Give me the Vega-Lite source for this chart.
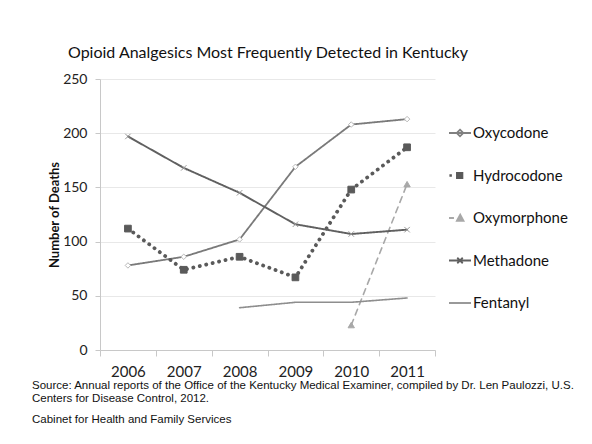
{
  "$schema": "https://vega.github.io/schema/vega-lite/v6.json",
  "width": 335,
  "height": 271,
  "autosize": {"type": "none"},
  "padding": {"left": 100, "top": 79, "right": 157, "bottom": 94},
  "background": "white",
  "title": {
    "text": [
      "Source: Annual reports of the Office of the Kentucky Medical Examiner, compiled by Dr. Len Paulozzi, U.S.",
      "Centers for Disease Control, 2012."
    ],
    "subtitle": "Cabinet for Health and Family Services",
    "orient": "bottom",
    "anchor": "start",
    "frame": "group",
    "align": "left",
    "dx": -68,
    "offset": 1,
    "font": "Liberation Sans",
    "fontSize": 11.5,
    "fontWeight": "normal",
    "color": "#111111",
    "lineHeight": 13,
    "subtitleFont": "Liberation Sans",
    "subtitleFontSize": 11.5,
    "subtitleColor": "#111111",
    "subtitlePadding": 9
  },
  "config": {
    "view": {"stroke": null},
    "font": "Lato"
  },
  "data": {
    "values": [
      {"year": "2006", "drug": "Oxycodone", "deaths": 78},
      {"year": "2007", "drug": "Oxycodone", "deaths": 86},
      {"year": "2008", "drug": "Oxycodone", "deaths": 102},
      {"year": "2009", "drug": "Oxycodone", "deaths": 169},
      {"year": "2010", "drug": "Oxycodone", "deaths": 208},
      {"year": "2011", "drug": "Oxycodone", "deaths": 213},
      {"year": "2006", "drug": "Hydrocodone", "deaths": 112},
      {"year": "2007", "drug": "Hydrocodone", "deaths": 74},
      {"year": "2008", "drug": "Hydrocodone", "deaths": 86},
      {"year": "2009", "drug": "Hydrocodone", "deaths": 67},
      {"year": "2010", "drug": "Hydrocodone", "deaths": 148},
      {"year": "2011", "drug": "Hydrocodone", "deaths": 187},
      {"year": "2010", "drug": "Oxymorphone", "deaths": 23},
      {"year": "2011", "drug": "Oxymorphone", "deaths": 153},
      {"year": "2006", "drug": "Methadone", "deaths": 197},
      {"year": "2007", "drug": "Methadone", "deaths": 168},
      {"year": "2008", "drug": "Methadone", "deaths": 145},
      {"year": "2009", "drug": "Methadone", "deaths": 116},
      {"year": "2010", "drug": "Methadone", "deaths": 107},
      {"year": "2011", "drug": "Methadone", "deaths": 111},
      {"year": "2008", "drug": "Fentanyl", "deaths": 39},
      {"year": "2009", "drug": "Fentanyl", "deaths": 44},
      {"year": "2010", "drug": "Fentanyl", "deaths": 44},
      {"year": "2011", "drug": "Fentanyl", "deaths": 48}
    ]
  },
  "encoding": {
    "x": {
      "field": "year",
      "type": "ordinal",
      "bandPosition": 0.5,
      "scale": {"type": "band", "domain": ["2006", "2007", "2008", "2009", "2010", "2011"], "paddingInner": 0, "paddingOuter": 0},
      "axis": {
        "orient": "bottom",
        "tickBand": "extent",
        "labelAngle": 0,
        "labelFont": "Lato",
        "labelFontSize": 15,
        "labelColor": "#222222",
        "labelPadding": 8,
        "tickSize": 6,
        "tickColor": "#c8c8c8",
        "domainColor": "#c8c8c8",
        "grid": false,
        "title": null
      }
    },
    "y": {
      "field": "deaths",
      "type": "quantitative",
      "scale": {"domain": [0, 250], "nice": false},
      "axis": {
        "values": [0, 50, 100, 150, 200, 250],
        "labelFont": "Lato",
        "labelFontSize": 14,
        "labelColor": "#222222",
        "labelPadding": 8,
        "tickSize": 5,
        "tickColor": "#c8c8c8",
        "domainColor": "#c8c8c8",
        "gridColor": "#e8e8e8",
        "title": "Number of Deaths",
        "titleFont": "Lato",
        "titleFontSize": 13,
        "titleFontWeight": "bold",
        "titleColor": "#111111",
        "titlePadding": 1
      }
    }
  },
  "layer": [
    {
      "mark": {"type": "line", "strokeCap": "round", "strokeJoin": "round"},
      "encoding": {
        "color": {
          "field": "drug",
          "type": "nominal",
          "legend": null,
          "scale": {
            "domain": ["Oxycodone", "Hydrocodone", "Oxymorphone", "Methadone", "Fentanyl"],
            "range": ["#7a7a7a", "#5a5a5a", "#a8a8a8", "#606060", "#8e8e8e"]
          }
        },
        "strokeDash": {
          "field": "drug",
          "type": "nominal",
          "legend": null,
          "scale": {
            "domain": ["Oxycodone", "Hydrocodone", "Oxymorphone", "Methadone", "Fentanyl"],
            "range": [[1, 0], [0.1, 6.5], [6, 5], [1, 0], [1, 0]]
          }
        },
        "strokeWidth": {
          "field": "drug",
          "type": "nominal",
          "legend": null,
          "scale": {
            "type": "ordinal",
            "domain": ["Oxycodone", "Hydrocodone", "Oxymorphone", "Methadone", "Fentanyl"],
            "range": [1.8, 3.8, 1.6, 1.9, 1.6]
          }
        }
      }
    },
    {
      "mark": {"type": "point", "strokeWidth": 1, "opacity": 1},
      "encoding": {
        "x": {
          "field": "year",
          "type": "ordinal",
          "bandPosition": 0.5,
          "axis": null
        },
        "shape": {
          "field": "drug",
          "type": "nominal",
          "legend": null,
          "scale": {
            "domain": ["Oxycodone", "Hydrocodone", "Oxymorphone", "Methadone", "Fentanyl"],
            "range": ["diamond", "square", "triangle-up", "M-1,-1L1,1M-1,1L1,-1", "circle"]
          }
        },
        "fill": {
          "field": "drug",
          "type": "nominal",
          "legend": null,
          "scale": {
            "domain": ["Oxycodone", "Hydrocodone", "Oxymorphone", "Methadone", "Fentanyl"],
            "range": ["#ffffff", "#5a5a5a", "#a8a8a8", "transparent", "transparent"]
          }
        },
        "stroke": {
          "field": "drug",
          "type": "nominal",
          "legend": null,
          "scale": {
            "domain": ["Oxycodone", "Hydrocodone", "Oxymorphone", "Methadone", "Fentanyl"],
            "range": ["#b8b8b8", "#5a5a5a", "#a8a8a8", "#9a9a9a", "transparent"]
          }
        },
        "size": {
          "field": "drug",
          "type": "nominal",
          "legend": null,
          "scale": {
            "type": "ordinal",
            "domain": ["Oxycodone", "Hydrocodone", "Oxymorphone", "Methadone", "Fentanyl"],
            "range": [30, 45, 40, 30, 0]
          }
        }
      }
    },
    {
      "transform": [{"filter": "datum.deaths < 0"}],
      "mark": {"type": "point", "filled": true, "strokeWidth": 1.8, "opacity": 1},
      "encoding": {
        "x": {
          "field": "year",
          "type": "ordinal",
          "bandPosition": 0.5,
          "axis": {
            "orient": "top",
            "values": [],
            "labels": false,
            "ticks": false,
            "domain": false,
            "grid": false,
            "title": "Opioid Analgesics Most Frequently Detected in Kentucky",
            "titleFont": "Lato",
            "titleFontSize": 16,
            "titleFontWeight": "normal",
            "titleColor": "#111111",
            "titlePadding": 19
          }
        },
        "shape": {
          "field": "drug",
          "type": "nominal",
          "scale": {
            "domain": ["Oxycodone", "Hydrocodone", "Oxymorphone", "Methadone", "Fentanyl"],
            "range": [
              "M-1,0H1M0,-0.3L0.3,0L0,0.3L-0.3,0Z",
              "M-0.88,-0.03h0.06v0.06h-0.06ZM-0.28,-0.24h0.5v0.48h-0.5Z",
              "M-1,0H-0.55M-0.28,0.25L0.02,-0.3L0.32,0.25Z",
              "M-1,0H1M-0.25,-0.25L0.25,0.25M-0.25,0.25L0.25,-0.25",
              "M-1,0H1"
            ]
          },
          "legend": {
            "title": null,
            "orient": "none",
            "legendX": 348,
            "legendY": 42,
            "symbolSize": 484,
            "symbolStrokeWidth": 1.8,
            "labelFont": "Lato",
            "labelFontSize": 15,
            "labelColor": "#111111",
            "labelOffset": 1,
            "rowPadding": 22.5
          }
        },
        "fill": {
          "field": "drug",
          "type": "nominal",
          "scale": {
            "domain": ["Oxycodone", "Hydrocodone", "Oxymorphone", "Methadone", "Fentanyl"],
            "range": ["#ffffff", "#5a5a5a", "#a8a8a8", "transparent", "transparent"]
          }
        },
        "stroke": {
          "field": "drug",
          "type": "nominal",
          "scale": {
            "domain": ["Oxycodone", "Hydrocodone", "Oxymorphone", "Methadone", "Fentanyl"],
            "range": ["#808080", "#5a5a5a", "#a8a8a8", "#606060", "#8e8e8e"]
          }
        }
      }
    }
  ],
  "resolve": {
    "scale": {"shape": "independent", "fill": "independent", "stroke": "independent"},
    "axis": {"x": "independent"},
    "legend": {"shape": "independent", "fill": "independent", "stroke": "independent"}
  }
}
